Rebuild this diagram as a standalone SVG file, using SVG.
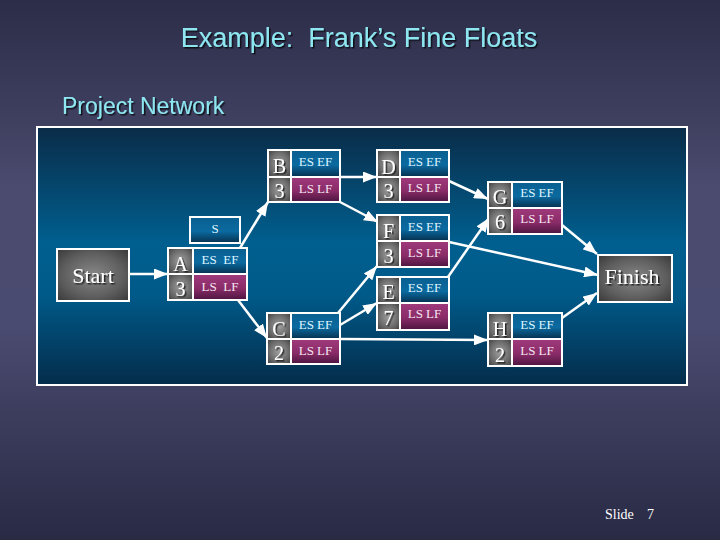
<svg xmlns="http://www.w3.org/2000/svg" width="720" height="540" viewBox="0 0 720 540">
<defs>
<linearGradient id="bg" x1="0" y1="0" x2="0" y2="1">
<stop offset="0" stop-color="#2c2d48"/>
<stop offset="0.35" stop-color="#4a4b6e"/>
<stop offset="0.6" stop-color="#4a4b70"/>
<stop offset="1" stop-color="#292a44"/>
</linearGradient>
<linearGradient id="panel" x1="0" y1="0" x2="0" y2="1">
<stop offset="0" stop-color="#0a2c48"/>
<stop offset="0.45" stop-color="#005f8f"/>
<stop offset="0.65" stop-color="#005a89"/>
<stop offset="1" stop-color="#042c4a"/>
</linearGradient>
<radialGradient id="gray" cx="0.5" cy="0.5" r="0.7">
<stop offset="0" stop-color="#a0a0a0"/>
<stop offset="0.6" stop-color="#6a6a6a"/>
<stop offset="1" stop-color="#3c3c3c"/>
</radialGradient>
<radialGradient id="grayBig" cx="0.5" cy="0.5" r="0.7">
<stop offset="0" stop-color="#888888"/>
<stop offset="0.6" stop-color="#5e5e5e"/>
<stop offset="1" stop-color="#383838"/>
</radialGradient>
<linearGradient id="blue" x1="0" y1="0" x2="0" y2="1">
<stop offset="0" stop-color="#0a5f90"/>
<stop offset="0.55" stop-color="#0b6aa0"/>
<stop offset="1" stop-color="#06304e"/>
</linearGradient>
<linearGradient id="mag" x1="0" y1="0" x2="0" y2="1">
<stop offset="0" stop-color="#a03a7c"/>
<stop offset="0.55" stop-color="#8a2c68"/>
<stop offset="1" stop-color="#4c1540"/>
</linearGradient>
<filter id="sh" x="-20%" y="-20%" width="140%" height="140%">
<feDropShadow dx="1.5" dy="1.5" stdDeviation="0.6" flood-color="#000" flood-opacity="0.7"/>
</filter>
<marker id="ah" markerUnits="userSpaceOnUse" markerWidth="15" markerHeight="11" refX="14" refY="5.5" orient="auto">
<path d="M0,0 L14,5.5 L0,11 z" fill="#ffffff"/>
</marker>
</defs>
<style>
.cell{stroke:#ffffff;stroke-width:2}
.g{fill:url(#gray)}
.b{fill:url(#blue)}
.m{fill:url(#mag)}
.big{fill:url(#grayBig);stroke:#ffffff;stroke-width:2}
.lt{font-family:"Liberation Serif","Times New Roman",serif;font-size:20px;fill:#ffffff;text-anchor:middle;filter:url(#sh)}
.st{font-family:"Liberation Serif","Times New Roman",serif;font-size:13px;text-anchor:middle;white-space:pre}
.es{fill:#dff6ff}
.ls{fill:#f6e6f2}
.bg2{font-family:"Liberation Serif","Times New Roman",serif;font-size:22px;fill:#ffffff;text-anchor:middle;filter:url(#sh)}
.hd{font-family:"Liberation Sans",Arial,sans-serif;fill:#8de6f0;filter:url(#sh);white-space:pre}
.conn{stroke:#ffffff;stroke-width:2.5;fill:none;marker-end:url(#ah)}
</style>
<rect x="0" y="0" width="720" height="540" fill="url(#bg)"/>
<text class="hd" x="359" y="47" font-size="27" text-anchor="middle">Example:  Frank’s Fine Floats</text>
<text class="hd" x="62" y="114" font-size="23">Project Network</text>
<rect x="37" y="127" width="650" height="258" fill="url(#panel)" stroke="#ffffff" stroke-width="2"/>
<g id="connectors">
<path class="conn" d="M129,274 L168,274"/>
<path class="conn" d="M240,248 L268,202"/>
<path class="conn" d="M238,300 L267,338"/>
<path class="conn" d="M340,177 L377,177"/>
<path class="conn" d="M340,202 L378,222"/>
<path class="conn" d="M449,181 L488,199"/>
<path class="conn" d="M338,313 L377,266"/>
<path class="conn" d="M340,325 L377,303"/>
<path class="conn" d="M340,339 L488,340"/>
<path class="conn" d="M448,277 L489,218"/>
<path class="conn" d="M449,242 L598,275"/>
<path class="conn" d="M562,225 L597,254"/>
<path class="conn" d="M562,318 L597,293"/>
</g>
<g id="start">
<rect class="big" x="57" y="249" width="72" height="52"/>
<text class="bg2" x="93" y="283">Start</text>
</g>
<g id="finish">
<rect class="big" x="598" y="255" width="74" height="47"/>
<text class="bg2" x="632" y="284">Finish</text>
</g>
<g id="s">
<rect class="cell b" x="190" y="217" width="50" height="26"/>
<text class="st es" x="215" y="233">S</text>
</g>
<g id="nodeA">
<rect class="cell g" x="168" y="248" width="25" height="26"/>
<rect class="cell g" x="168" y="274" width="25" height="26"/>
<rect class="cell b" x="193" y="248" width="54" height="26"/>
<rect class="cell m" x="193" y="274" width="54" height="26"/>
<text class="lt" x="180.5" y="271">A</text>
<text class="lt" x="180.5" y="296">3</text>
<text class="st es" x="220" y="264">ES  EF</text>
<text class="st ls" x="220" y="291">LS  LF</text>
</g>
<g id="nodeB">
<rect class="cell g" x="268" y="150" width="23" height="27"/>
<rect class="cell g" x="268" y="177" width="23" height="25"/>
<rect class="cell b" x="291" y="150" width="49" height="27"/>
<rect class="cell m" x="291" y="177" width="49" height="25"/>
<text class="lt" x="279.5" y="173">B</text>
<text class="lt" x="279.5" y="198">3</text>
<text class="st es" x="315.5" y="166">ES EF</text>
<text class="st ls" x="315.5" y="193">LS LF</text>
</g>
<g id="nodeC">
<rect class="cell g" x="267" y="313" width="24" height="26"/>
<rect class="cell g" x="267" y="339" width="24" height="25"/>
<rect class="cell b" x="291" y="313" width="49" height="26"/>
<rect class="cell m" x="291" y="339" width="49" height="25"/>
<text class="lt" x="279" y="336">C</text>
<text class="lt" x="279" y="360">2</text>
<text class="st es" x="315.5" y="329">ES EF</text>
<text class="st ls" x="315.5" y="355">LS LF</text>
</g>
<g id="nodeD">
<rect class="cell g" x="377" y="150" width="23" height="27"/>
<rect class="cell g" x="377" y="177" width="23" height="25"/>
<rect class="cell b" x="400" y="150" width="49" height="27"/>
<rect class="cell m" x="400" y="177" width="49" height="25"/>
<text class="lt" x="388.5" y="174">D</text>
<text class="lt" x="388.5" y="198">3</text>
<text class="st es" x="424.5" y="166">ES EF</text>
<text class="st ls" x="424.5" y="192">LS LF</text>
</g>
<g id="nodeF">
<rect class="cell g" x="377" y="215" width="23" height="26"/>
<rect class="cell g" x="377" y="241" width="23" height="26"/>
<rect class="cell b" x="400" y="215" width="49" height="26"/>
<rect class="cell m" x="400" y="241" width="49" height="26"/>
<text class="lt" x="388.5" y="238">F</text>
<text class="lt" x="388.5" y="263">3</text>
<text class="st es" x="424.5" y="231">ES EF</text>
<text class="st ls" x="424.5" y="257">LS LF</text>
</g>
<g id="nodeE">
<rect class="cell g" x="377" y="277" width="23" height="26"/>
<rect class="cell g" x="377" y="303" width="23" height="27"/>
<rect class="cell b" x="400" y="277" width="49" height="26"/>
<rect class="cell m" x="400" y="303" width="49" height="27"/>
<text class="lt" x="388.5" y="299">E</text>
<text class="lt" x="388.5" y="325">7</text>
<text class="st es" x="424.5" y="292">ES EF</text>
<text class="st ls" x="424.5" y="318">LS LF</text>
</g>
<g id="nodeG">
<rect class="cell g" x="488" y="182" width="24" height="26"/>
<rect class="cell g" x="488" y="208" width="24" height="26"/>
<rect class="cell b" x="512" y="182" width="50" height="26"/>
<rect class="cell m" x="512" y="208" width="50" height="26"/>
<text class="lt" x="500" y="204">G</text>
<text class="lt" x="500" y="229">6</text>
<text class="st es" x="537" y="197">ES EF</text>
<text class="st ls" x="537" y="223">LS LF</text>
</g>
<g id="nodeH">
<rect class="cell g" x="488" y="313" width="24" height="26"/>
<rect class="cell g" x="488" y="339" width="24" height="27"/>
<rect class="cell b" x="512" y="313" width="50" height="26"/>
<rect class="cell m" x="512" y="339" width="50" height="27"/>
<text class="lt" x="500" y="336">H</text>
<text class="lt" x="500" y="362">2</text>
<text class="st es" x="537" y="329">ES EF</text>
<text class="st ls" x="537" y="355">LS LF</text>
</g>
<text x="605" y="519" font-family="Liberation Serif,'Times New Roman',serif" font-size="14" fill="#ffffff" style="white-space:pre">Slide  <tspan x="647">7</tspan></text>
</svg>
